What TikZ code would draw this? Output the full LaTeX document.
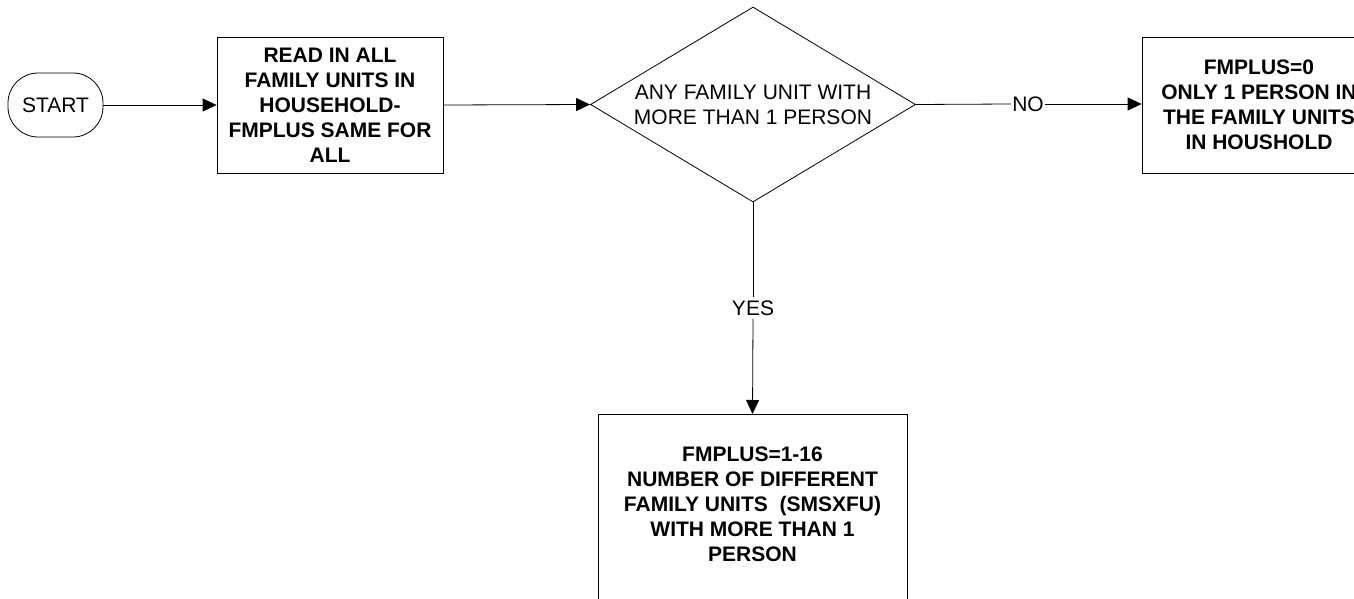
\documentclass[tikz,border=0pt]{standalone}
\usepackage{fontspec}
\setmainfont{Liberation Sans}
\usetikzlibrary{shapes.geometric,arrows.meta}
\begin{document}
\begin{tikzpicture}[x=1pt,y=-1pt,
  every node/.style={font=\fontsize{21}{25}\selectfont, inner sep=0pt, align=center},
  boxstyle/.style={draw, line width=0.8pt, rectangle},
  boldtext/.style={font=\fontsize{21}{25}\selectfont\bfseries},
  conn/.style={line width=0.8pt, -{Triangle[length=14pt,width=13pt]}},
  plain/.style={line width=0.8pt}]
\useasboundingbox (0,0) rectangle (1354,599);
\clip (0,0) rectangle (1354,599);
\fill[white] (0,0) rectangle (1354,599);

\node[draw, line width=0.8pt, rounded corners=30pt, minimum width=95pt, minimum height=64pt] (start) at (55.5,105) {START};
\node[boxstyle, boldtext, minimum width=226pt, minimum height=136pt] (read) at (330,105)
  {READ IN ALL\\FAMILY UNITS IN\\HOUSEHOLD-\\FMPLUS SAME FOR\\ALL};
\node[draw, line width=0.8pt, diamond, aspect=1.667, minimum width=325pt, minimum height=195pt] (dec) at (753,104.5)
  {ANY FAMILY UNIT WITH\\MORE THAN 1 PERSON};
\node[boxstyle, boldtext, minimum width=234pt, minimum height=136pt] (zero) at (1259,105)
  {FMPLUS=0\\ONLY 1 PERSON IN\\THE FAMILY UNITS\\IN HOUSHOLD};
\node[boxstyle, minimum width=309pt, minimum height=210pt, anchor=north] (multi) at (752.5,414) {};
\node[boldtext] (multitext) at (752.5,504)
  {FMPLUS=1-16\\NUMBER OF DIFFERENT\\FAMILY UNITS\ \ (SMSXFU)\\WITH MORE THAN 1\\PERSON};

\draw[conn] (start.east) -- (read.west);
\draw[conn] (read.east) -- (dec.west);
\node[fill=white, inner xsep=1pt] (no) at (1028,104) {NO};
\draw[plain] (dec.east) -- (no.west);
\draw[conn] (no.east) -- (zero.west |- no.east);
\node[fill=white, inner ysep=3pt] (yes) at (753,308) {YES};
\draw[plain] (dec.south) -- (yes.north);
\draw[conn] (yes.south) -- (multi.north);
\end{tikzpicture}
\end{document}
